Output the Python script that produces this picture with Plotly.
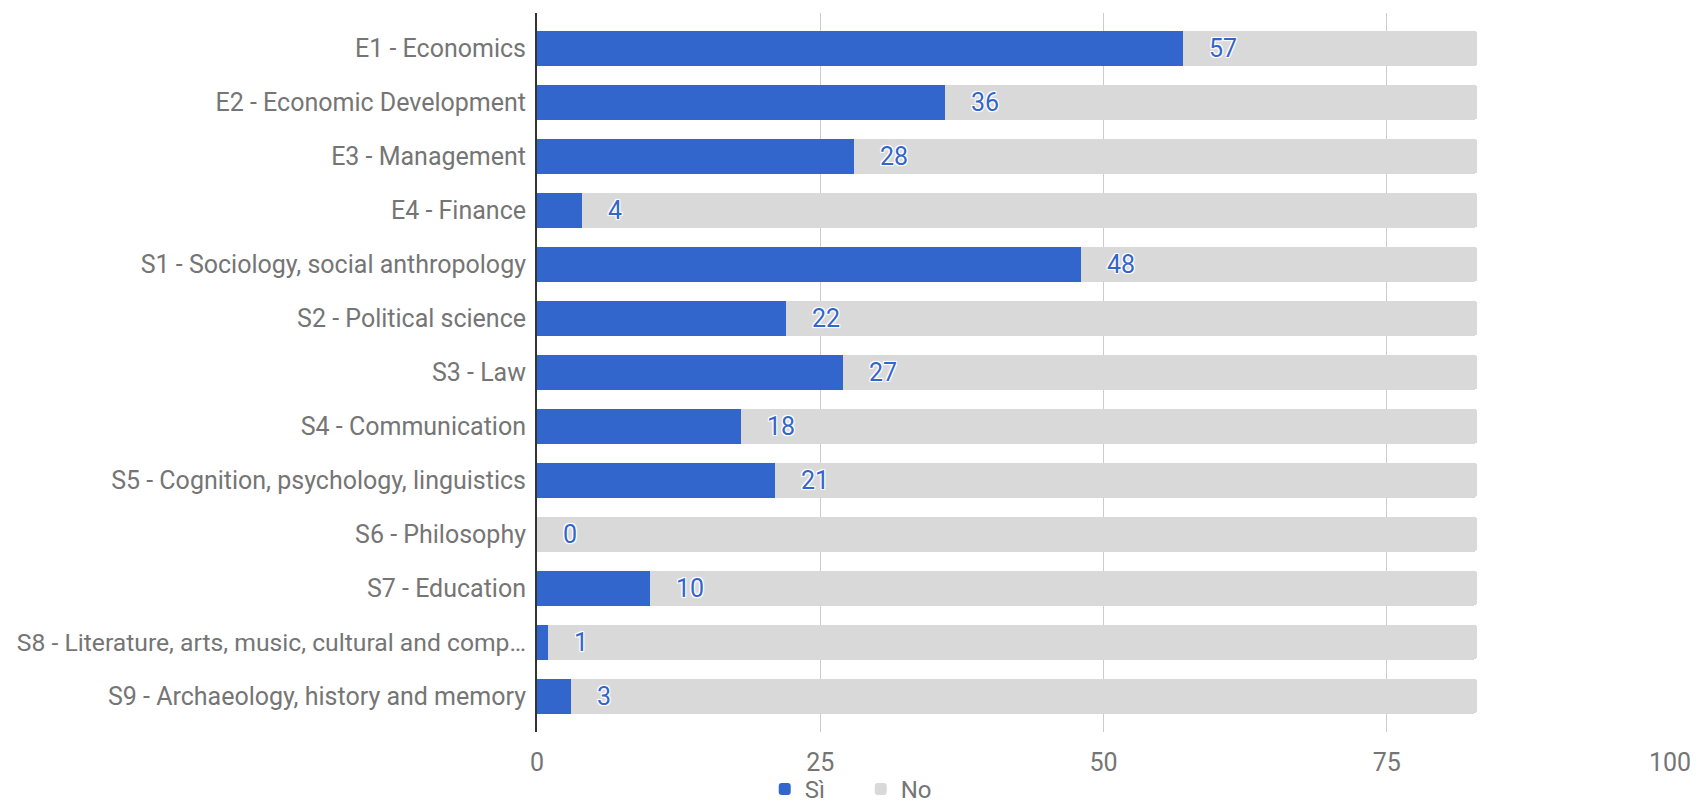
import plotly.graph_objects as go

categories = [
    "E1 - Economics",
    "E2 - Economic Development",
    "E3 - Management",
    "E4 - Finance",
    "S1 - Sociology, social anthropology",
    "S2 - Political science",
    "S3 - Law",
    "S4 - Communication",
    "S5 - Cognition, psychology, linguistics",
    "S6 - Philosophy",
    "S7 - Education",
    "S8 - Literature, arts, music, cultural and comp…",
    "S9 - Archaeology, history and memory",
]
si_values = [57, 36, 28, 4, 48, 22, 27, 18, 21, 0, 10, 1, 3]
no_values = [26, 47, 55, 79, 35, 61, 56, 65, 62, 83, 73, 82, 80]
x_ticks = [0, 25, 50, 75, 100]

BLUE = "#3366cc"
GREY = "#d9d9d9"
TEXT = "#757575"
FONT = "Roboto"

# long labels get a slightly condensed size so they fit the left margin
y_ticktext = [
    c if len(c) < 45 else '<span style="font-size:24.7px">%s</span>' % c
    for c in categories
]

fig = go.Figure()
fig.add_trace(go.Bar(
    y=categories, x=si_values, orientation="h", name="Sì",
    marker=dict(color=BLUE, line=dict(width=0)), hoverinfo="x+y",
))
fig.add_trace(go.Bar(
    y=categories, x=no_values, orientation="h", name="No",
    marker=dict(color=GREY, line=dict(width=0)), hoverinfo="x+y",
))

shadow = "1px 1px 0 #fff, -1px -1px 0 #fff, 1px -1px 0 #fff, -1px 1px 0 #fff, 0 0 3px #fff"
for cat, v in zip(categories, si_values):
    fig.add_annotation(
        x=v, y=cat, xref="x", yref="y", text=str(v), showarrow=False,
        xanchor="left", yanchor="middle", xshift=24,
        font=dict(family=FONT, size=25, color=BLUE, shadow=shadow),
    )

fig.update_layout(
    width=1697, height=815,
    margin=dict(l=529, r=35, t=5, b=91, autoexpand=False),
    barmode="stack",
    bargap=0.352,
    barcornerradius=4,
    plot_bgcolor="white",
    paper_bgcolor="white",
    font=dict(family=FONT, size=25, color=TEXT),
    showlegend=True,
    legend=dict(
        orientation="h", traceorder="normal",
        x=0.201, xanchor="left", y=-0.080, yanchor="middle",
        font=dict(family=FONT, size=24, color=TEXT),
        entrywidth=51, bgcolor="rgba(0,0,0,0)",
    ),
    xaxis=dict(
        range=[0, 100], tickvals=x_ticks, ticktext=[str(t) for t in x_ticks],
        showgrid=True, gridcolor="#cccccc", gridwidth=1,
        zeroline=False, showline=False, ticks="", automargin=False,
        tickfont=dict(family=FONT, size=25, color=TEXT),
        ticklabelstandoff=13, fixedrange=True,
    ),
    yaxis=dict(
        type="category", categoryorder="array", categoryarray=categories,
        tickmode="array", tickvals=categories, ticktext=y_ticktext,
        range=[12.665, -0.658], showgrid=False, zeroline=False,
        showline=True, linecolor="#333333", linewidth=2, ticks="", automargin=False,
        tickfont=dict(family=FONT, size=25, color=TEXT),
        ticklabelstandoff=4, fixedrange=True,
    ),
)

fig.write_html("out.html")
